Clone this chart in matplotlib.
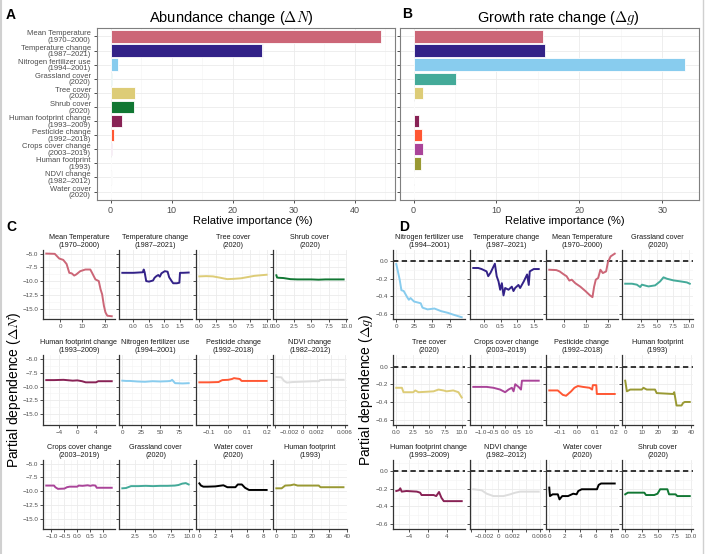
import numpy as np
import matplotlib.pyplot as plt
from matplotlib.ticker import AutoMinorLocator
from matplotlib.lines import Line2D

plt.rcParams['font.family'] = ['Liberation Sans', 'DejaVu Sans']
plt.rcParams['mathtext.fontset'] = 'cm'

# variaveis (mesma ordem dos graficos de barras)
nomes = ['Mean Temperature\n(1970–2000)', 'Temperature change\n(1987–2021)',
         'Nitrogen fertilizer use\n(1994–2001)', 'Grassland cover\n(2020)',
         'Tree cover\n(2020)', 'Shrub cover\n(2020)',
         'Human footprint change\n(1993–2009)', 'Pesticide change\n(1992–2018)',
         'Crops cover change\n(2003–2019)', 'Human footprint\n(1993)',
         'NDVI change\n(1982–2012)', 'Water cover\n(2020)']
cores = ['#CC6677', '#332288', '#88CCEE', '#44AA99', '#DDCC77', '#117733',
         '#882255', '#FF5733', '#AA4499', '#999933', '#DDDDDD', '#000000']

# importancia relativa (%)
imp_N = [44.4, 24.8, 1.25, 0.2, 4.0, 3.8, 1.9, 0.55, 0.25, 0.05, 0.2, 0.15]
imp_g = [15.6, 15.9, 32.8, 5.1, 1.1, 0.0, 0.6, 1.05, 1.1, 0.85, 0.1, 0.0]
ticks_A = [0, 10, 20, 30, 40]
ticks_B = [0, 10, 20, 30]

# ticks do eixo x de cada variavel
xt = [[0, 10, 20], [0, 0.5, 1.0, 1.5], [0, 25, 50, 75], [2.5, 5.0, 7.5, 10.0],
      [0, 2.5, 5, 7.5, 10], [0, 2.5, 5, 7.5, 10], [-4, 0, 4], [-0.1, 0, 0.1, 0.2],
      [-1, -0.5, 0, 0.5, 1], [0, 10, 20, 30, 40],
      [-0.004, -0.002, 0, 0.002, 0.004, 0.006], [0, 2, 4, 6, 8]]
xtl = [['0', '10', '20'], ['0.0', '0.5', '1.0', '1.5'], ['0', '25', '50', '75'],
       ['2.5', '5.0', '7.5', '10.0'], ['0.0', '2.5', '5.0', '7.5', '10.0'],
       ['0.0', '2.5', '5.0', '7.5', '10.0'], ['−4', '0', '4'],
       ['−0.1', '0.0', '0.1', '0.2'], ['−1.0', '−0.5', '0.0', '0.5', '1.0'],
       ['0', '10', '20', '30', '40'], ['', '−0.002', '0', '0.002', '', '0.006'],
       ['0', '2', '4', '6', '8']]

# dependencia parcial - abundancia (Delta N)
N_meantemp_x = [-6.2, -2.4, -0.4, 1.4, 2.9, 4.1, 5.2, 6.3, 7.2, 9.0, 11.3, 13.5, 14.3,
                15.8, 17.3, 18.1, 18.8, 19.6, 20.3, 21.1, 23.1]
N_meantemp_y = [-5.0, -5.05, -5.9, -6.15, -6.9, -8.5, -8.6, -9.0, -8.8, -8.2, -7.9, -7.9,
                -8.5, -9.7, -10.0, -11.5, -12.4, -14.5, -15.7, -16.3, -16.4]
N_tempch_x = [-0.36, 0.0, 0.3, 0.33, 0.36, 0.41, 0.5, 0.63, 0.68, 0.74, 0.8, 0.85, 0.9,
              1.01, 1.1, 1.15, 1.23, 1.28, 1.4, 1.48, 1.5, 1.6, 1.78]
N_tempch_y = [-8.5, -8.5, -8.4, -7.9, -8.4, -10.0, -10.1, -9.9, -9.4, -9.1, -8.9, -9.2,
              -8.6, -8.2, -8.3, -9.3, -10.0, -10.4, -10.4, -10.3, -8.5, -8.5, -8.45]
N_nitro_x = [0, 5, 10, 20, 30, 40, 50, 60, 64, 66, 70, 80, 88]
N_nitro_y = [-8.95, -9.0, -9.0, -9.1, -9.15, -9.05, -9.1, -9.05, -9.0, -8.8, -9.4, -9.45, -9.4]
N_grass_x = [0.8, 1.3, 2.0, 3.0, 4.0, 5.0, 6.0, 7.0, 8.0, 8.5, 9.0, 9.5, 9.9]
N_grass_y = [-9.5, -9.45, -9.1, -9.1, -9.05, -9.1, -9.05, -9.05, -9.0, -8.9, -8.65, -8.55, -8.8]
N_tree_x = [0.0, 1.0, 2.0, 3.1, 4.1, 5.0, 6.1, 7.0, 8.1, 9.0, 9.9]
N_tree_y = [-9.15, -9.1, -9.15, -9.4, -9.65, -9.6, -9.5, -9.3, -9.05, -8.95, -8.85]
N_shrub_x = [0.0, 0.1, 0.3, 1.0, 2.0, 3.0, 4.0, 5.0, 6.0, 7.0, 8.0, 9.0, 9.6]
N_shrub_y = [-8.95, -9.35, -9.4, -9.45, -9.65, -9.7, -9.7, -9.7, -9.75, -9.7, -9.7, -9.7, -9.7]
N_hfpch_x = [-6.7, -5.0, -3.0, -1.0, 0.0, 1.0, 1.8, 3.0, 4.0, 4.5, 6.0, 7.4]
N_hfpch_y = [-8.85, -8.85, -8.8, -8.95, -8.9, -9.05, -9.25, -9.25, -9.25, -9.05, -9.05, -9.05]
N_pest_x = [-0.15, -0.1, -0.05, -0.04, -0.03, 0.0, 0.02, 0.03, 0.05, 0.06, 0.07, 0.12, 0.2]
N_pest_y = [-9.25, -9.25, -9.2, -9.0, -8.85, -8.8, -8.65, -8.5, -8.6, -8.65, -9.0, -9.0, -9.0]
N_crops_x = [-1.2, -0.9, -0.85, -0.75, -0.5, -0.4, -0.3, 0.0, 0.05, 0.2, 0.4, 0.5, 0.6,
             0.7, 0.75, 1.0, 1.33]
N_crops_y = [-9.0, -9.0, -9.3, -9.6, -9.55, -9.3, -9.2, -9.2, -9.0, -9.05, -8.95, -9.05,
             -8.95, -9.0, -9.4, -9.4, -9.4]
N_hfp_x = [0, 3, 5, 8, 10, 12, 18, 24, 25, 30, 38]
N_hfp_y = [-9.5, -9.5, -9.0, -8.95, -8.8, -9.0, -9.0, -9.0, -9.3, -9.3, -9.3]
N_ndvi_x = [-0.0038, -0.0031, -0.0027, -0.0023, -0.0015, -0.0005, 0.0005, 0.0015, 0.0023,
            0.0024, 0.004, 0.0058]
N_ndvi_y = [-8.3, -8.35, -9.0, -9.3, -9.2, -9.15, -9.1, -9.05, -9.05, -8.85, -8.8, -8.8]
N_water_x = [0.0, 0.2, 0.5, 1.0, 2.0, 2.5, 3.0, 3.5, 4.5, 4.8, 5.3, 5.7, 6.2, 7.0, 8.4]
N_water_y = [-8.6, -9.0, -9.2, -9.2, -9.15, -9.05, -8.95, -9.3, -9.3, -8.8, -8.8, -9.4,
             -9.8, -9.8, -9.8]

# dependencia parcial - taxa de crescimento (Delta g)
g_meantemp_x = [-6.6, -3.4, -1.9, 0, 1.25, 2.5, 3.6, 5.2, 7.5, 9.8, 11.9, 13.0, 13.75,
                14.5, 15.6, 16.6, 17.7, 19.2, 20.0, 21.25, 23.1]
g_meantemp_y = [-0.096, -0.10, -0.115, -0.15, -0.17, -0.22, -0.21, -0.25, -0.29, -0.34,
                -0.39, -0.41, -0.29, -0.21, -0.19, -0.096, -0.134, -0.115, -0.01, 0.057, 0.088]
g_tempch_x = [-0.32, -0.17, -0.07, 0.08, 0.13, 0.2, 0.33, 0.385, 0.44, 0.49, 0.54, 0.59,
              0.64, 0.74, 0.84, 0.89, 0.94, 1.04, 1.09, 1.2, 1.3, 1.35, 1.38, 1.5, 1.65]
g_tempch_y = [-0.076, -0.076, -0.088, -0.115, -0.17, -0.13, -0.027, -0.17, -0.23, -0.325,
              -0.25, -0.39, -0.305, -0.325, -0.29, -0.34, -0.305, -0.27, -0.305, -0.23,
              -0.15, -0.27, -0.115, -0.088, -0.088]
g_nitro_x = [0, 4.8, 7.2, 10.5, 15.3, 17.7, 20, 25, 34.4, 36.8, 44, 53.6, 63, 72.7, 80, 92]
g_nitro_y = [-0.03, -0.21, -0.33, -0.34, -0.41, -0.44, -0.42, -0.46, -0.48, -0.53, -0.55,
             -0.54, -0.57, -0.59, -0.61, -0.64]
g_grass_x = [0.04, 1.1, 1.87, 2.4, 2.66, 3.7, 4.75, 5.54, 6.06, 6.6, 7.63, 8.7, 9.74, 10.2]
g_grass_y = [-0.256, -0.256, -0.267, -0.294, -0.267, -0.287, -0.275, -0.229, -0.183,
             -0.199, -0.218, -0.229, -0.241, -0.256]
g_tree_x = [0, 0.86, 1.1, 2.6, 2.9, 3.4, 5.7, 6.45, 7.2, 7.7, 8.7, 9.5, 10.0]
g_tree_y = [-0.24, -0.24, -0.29, -0.29, -0.27, -0.29, -0.28, -0.26, -0.27, -0.28, -0.27,
            -0.29, -0.35]
g_shrub_x = [0, 0.4, 2.9, 3.15, 4.4, 4.9, 5.3, 6.4, 6.65, 7.65, 7.9, 9.8]
g_shrub_y = [-0.263, -0.244, -0.244, -0.271, -0.271, -0.256, -0.205, -0.205, -0.263,
             -0.263, -0.283, -0.283]
g_hfpch_x = [-6.65, -6.1, -5.8, -5.5, -4.5, -2.3, -1.6, -1.3, 1.26, 1.8, 2.4, 2.9, 3.4, 7.2]
g_hfpch_y = [-0.225, -0.217, -0.194, -0.232, -0.225, -0.232, -0.244, -0.271, -0.271,
             -0.283, -0.236, -0.302, -0.341, -0.341]
g_pest_x = [-0.156, -0.109, -0.081, -0.063, -0.035, -0.017, 0.002, 0.03, 0.067, 0.081,
            0.085, 0.104, 0.107, 0.206]
g_pest_y = [-0.27, -0.27, -0.32, -0.33, -0.28, -0.24, -0.22, -0.23, -0.24, -0.26, -0.21,
            -0.21, -0.31, -0.31]
g_crops_x = [-1.31, -0.75, -0.47, -0.19, 0.02, 0.16, 0.3, 0.37, 0.44, 0.58, 0.68, 0.72, 1.42]
g_crops_y = [-0.23, -0.23, -0.24, -0.26, -0.29, -0.26, -0.24, -0.28, -0.2, -0.23, -0.26,
             -0.16, -0.16]
g_hfp_x = [0, 1, 3, 10, 11, 13, 18, 19, 29, 29.6, 30, 31, 34, 35, 36, 39]
g_hfp_y = [-0.16, -0.28, -0.26, -0.26, -0.24, -0.26, -0.26, -0.30, -0.31, -0.29, -0.33,
           -0.44, -0.44, -0.41, -0.40, -0.40]
g_ndvi_x = [-0.00366, -0.00244, -0.0017, -0.00073, 0.00073, 0.0017, 0.00244, 0.00317, 0.00585]
g_ndvi_y = [-0.205, -0.217, -0.256, -0.283, -0.283, -0.263, -0.244, -0.232, -0.232]
g_water_x = [0, 0.09, 0.44, 1.1, 1.32, 1.67, 2.42, 3.08, 3.52, 3.74, 4.18, 6.15, 6.37,
             6.68, 8.44]
g_water_y = [-0.186, -0.283, -0.263, -0.263, -0.321, -0.283, -0.283, -0.256, -0.263,
             -0.225, -0.205, -0.205, -0.155, -0.139, -0.139]

pd_N = [(N_meantemp_x, N_meantemp_y), (N_tempch_x, N_tempch_y), (N_nitro_x, N_nitro_y),
        (N_grass_x, N_grass_y), (N_tree_x, N_tree_y), (N_shrub_x, N_shrub_y),
        (N_hfpch_x, N_hfpch_y), (N_pest_x, N_pest_y), (N_crops_x, N_crops_y),
        (N_hfp_x, N_hfp_y), (N_ndvi_x, N_ndvi_y), (N_water_x, N_water_y)]
pd_g = [(g_meantemp_x, g_meantemp_y), (g_tempch_x, g_tempch_y), (g_nitro_x, g_nitro_y),
        (g_grass_x, g_grass_y), (g_tree_x, g_tree_y), (g_shrub_x, g_shrub_y),
        (g_hfpch_x, g_hfpch_y), (g_pest_x, g_pest_y), (g_crops_x, g_crops_y),
        (g_hfp_x, g_hfp_y), (g_ndvi_x, g_ndvi_y), (g_water_x, g_water_y)]

ordem_C = [0, 1, 4, 5, 6, 2, 7, 10, 8, 3, 11, 9]
ordem_D = [2, 1, 0, 3, 4, 8, 7, 9, 6, 10, 11, 5]

yt_C = [-15, -12.5, -10, -7.5, -5]
ytl_C = ['−15.0', '−12.5', '−10.0', '−7.5', '−5.0']
yt_D = [-0.6, -0.4, -0.2, 0.0]
ytl_D = ['−0.6', '−0.4', '−0.2', '0.0']

W, H = 706, 554
fig = plt.figure(figsize=(W / 100, H / 100), dpi=100)
cinza = '#4D4D4D'


def eixo(l, r, t, b):
    return fig.add_axes([l / W, 1 - b / H, (r - l) / W, (b - t) / H])


def barras(ax, vals, ticks, rotulos):
    pos = np.arange(len(vals), 0, -1)
    ax.barh(pos, vals, height=0.88, color=cores, edgecolor='white', linewidth=0.6, zorder=3)
    m = max(vals)
    ax.set_xlim(-0.05 * m, 1.05 * m)
    ax.set_ylim(0.4, len(vals) + 0.6)
    ax.set_xticks(ticks)
    ax.xaxis.set_minor_locator(AutoMinorLocator(2))
    ax.set_yticks(pos)
    if rotulos:
        ax.set_yticklabels(nomes, fontsize=5.5, color=cinza, linespacing=0.92)
    else:
        ax.set_yticklabels([])
        ax.tick_params(axis='y', length=0)
    ax.grid(which='major', color='#EBEBEB', lw=0.6, zorder=0)
    ax.grid(which='minor', axis='x', color='#F3F3F3', lw=0.4, zorder=0)
    ax.set_axisbelow(True)
    for s in ax.spines.values():
        s.set_color('#7F7F7F')
        s.set_linewidth(0.8)
    ax.tick_params(axis='x', labelsize=6.5, labelcolor=cinza)
    ax.tick_params(length=2.5, width=0.6, color='#333333', pad=2)
    ax.tick_params(which='minor', length=0)


def dependencia(ax, i, dados, ylim, yt, ytl, primeira, tracejado):
    x, y = dados[i]
    if tracejado:
        ax.axhline(0, color='black', ls=(0, (3.5, 2.2)), lw=1.1, zorder=2)
    ax.plot(x, y, color=cores[i], lw=1.4, zorder=3, solid_joinstyle='round')
    r = max(x) - min(x)
    ax.set_xlim(min(x) - 0.05 * r, max(x) + 0.05 * r)
    ax.set_ylim(ylim)
    ax.set_xticks(xt[i])
    ax.set_xticklabels(xtl[i])
    ax.set_yticks(yt)
    ax.xaxis.set_minor_locator(AutoMinorLocator(2))
    ax.yaxis.set_minor_locator(AutoMinorLocator(2))
    if primeira:
        ax.set_yticklabels(ytl)
    else:
        ax.set_yticklabels([])
        ax.tick_params(axis='y', length=0)
    ax.grid(which='major', color='#EBEBEB', lw=0.6, zorder=0)
    ax.grid(which='minor', color='#F4F4F4', lw=0.4, zorder=0)
    ax.set_axisbelow(True)
    for s in ['top', 'right']:
        ax.spines[s].set_visible(False)
    for s in ['left', 'bottom']:
        ax.spines[s].set_color('#333333')
        ax.spines[s].set_linewidth(0.9)
    ax.tick_params(labelsize=4.5, labelcolor=cinza, length=2, width=0.6,
                   color='#333333', pad=1.5)
    ax.tick_params(which='minor', length=0)
    ax.set_title(nomes[i], fontsize=5.2, linespacing=1.05, pad=2.5, color='#1A1A1A')


# painel A e B
axA = eixo(97, 395, 28, 200)
barras(axA, imp_N, ticks_A, True)
axB = eixo(400, 699, 28, 200)
barras(axB, imp_g, ticks_B, False)

fig.text(231 / W, 1 - 18 / H, r'Abundance change ($\Delta N$)', fontsize=10.5,
         ha='center', va='center')
fig.text(558 / W, 1 - 18 / H, r'Growth rate change ($\Delta g$)', fontsize=10.5,
         ha='center', va='center')
fig.text(253 / W, 1 - 221 / H, 'Relative importance (%)', fontsize=8, ha='center', va='center')
fig.text(565 / W, 1 - 221 / H, 'Relative importance (%)', fontsize=8, ha='center', va='center')

# paineis C e D
cols_C = [(43, 115), (119, 192), (196, 270), (273, 347)]
cols_D = [(393, 465), (470, 542), (546, 618), (622, 693)]
linhas = [(250, 319), (355, 425), (460, 529)]

for k in range(12):
    t, b = linhas[k // 4]
    l, r = cols_C[k % 4]
    dependencia(eixo(l, r, t, b), ordem_C[k], pd_N, (-16.9, -4.35), yt_C, ytl_C,
                k % 4 == 0, False)
    l, r = cols_D[k % 4]
    dependencia(eixo(l, r, t, b), ordem_D[k], pd_g, (-0.66, 0.13), yt_D, ytl_D,
                k % 4 == 0, True)

fig.text(14 / W, 1 - 390 / H, r'Partial dependence ($\Delta N$)', fontsize=10,
         rotation=90, ha='center', va='center')
fig.text(366 / W, 1 - 390 / H, r'Partial dependence ($\Delta g$)', fontsize=10,
         rotation=90, ha='center', va='center')

# letras dos paineis
for letra, xp, yp in [('A', 11, 15), ('B', 407, 14), ('C', 11, 227), ('D', 404, 227)]:
    fig.text(xp / W, 1 - yp / H, letra, fontsize=10, fontweight='bold', ha='center', va='center')

# moldura clara nas bordas
fig.add_artist(Line2D([1 / W, 1 / W], [0, 1], color='#D0D0D0', lw=1.5))
fig.add_artist(Line2D([703 / W, 703 / W], [0, 1], color='#D0D0D0', lw=1))

fig.savefig('out.png', dpi=100)
